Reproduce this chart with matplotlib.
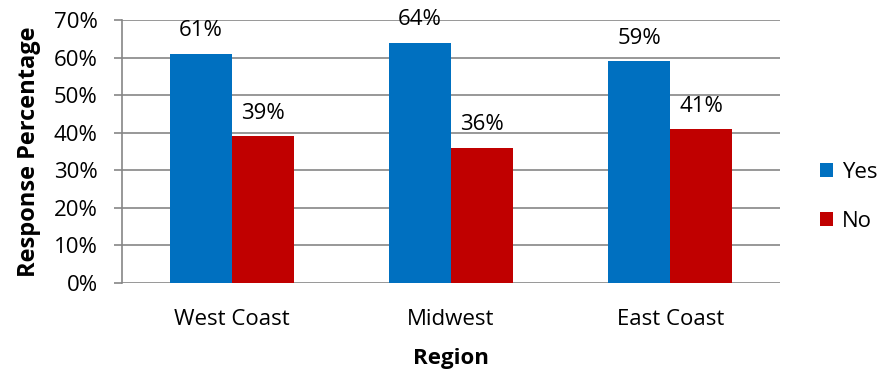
import numpy as np
import matplotlib.pyplot as plt
from matplotlib.ticker import PercentFormatter

regions = ["West Coast", "Midwest", "East Coast"]
yes_pct = [61, 64, 59]
no_pct = [39, 36, 41]

COLOR_YES = "#0070C0"
COLOR_NO = "#C00000"
GRID = "#868686"

plt.rcParams.update({
    "font.family": ["Open Sans", "DejaVu Sans"],
    "font.size": 16,
})

fig = plt.figure(figsize=(8.85, 3.7), dpi=100)
ax = fig.add_axes([0.1379, 0.2351, 0.8814 - 0.1379, 0.946 - 0.2351])

x = np.arange(len(regions))
w = 0.283
b_yes = ax.bar(x - w / 2, yes_pct, w, color=COLOR_YES, label="Yes", zorder=3)
b_no = ax.bar(x + w / 2, no_pct, w, color=COLOR_NO, label="No", zorder=3)

# value labels above each bar
for bars in (b_yes, b_no):
    for rect in bars:
        h = rect.get_height()
        ax.annotate(f"{h:.0f}%", (rect.get_x() + rect.get_width() / 2, h),
                    xytext=(0, 16.5), textcoords="offset points",
                    ha="center", va="center", fontsize=16, zorder=4)

ax.set_xlim(-0.5, len(regions) - 0.5)
ax.set_ylim(0, 70)
ax.set_yticks(range(0, 71, 10))
ax.yaxis.set_major_formatter(PercentFormatter(decimals=0))
ax.set_xticks(x)
ax.set_xticklabels(regions)

ax.grid(axis="y", color=GRID, linewidth=1.2, zorder=0)
for side in ("top", "right", "bottom"):
    ax.spines[side].set_visible(False)
ax.spines["left"].set_color(GRID)
ax.spines["left"].set_linewidth(1.2)
ax.tick_params(axis="y", length=6, width=1.2, color=GRID, pad=11.5)
ax.tick_params(axis="x", length=0, pad=19)

ax.set_ylabel("Response Percentage", fontweight="bold", fontsize=17, labelpad=9)
ax.set_xlabel("Region", fontweight="bold", fontsize=16, labelpad=13)

ax.legend(loc="center left", bbox_to_anchor=(1.03, 0.327), frameon=False,
          handlelength=0.6, handleheight=0.6, handletextpad=0.4,
          labelspacing=1.25, fontsize=16)

fig.savefig("out.png", dpi=100, facecolor="white")
